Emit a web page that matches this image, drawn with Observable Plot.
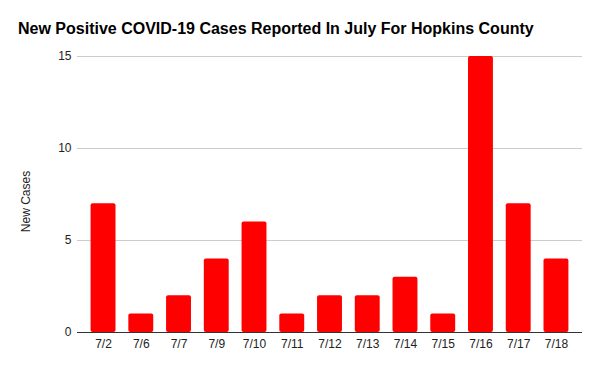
<!DOCTYPE html>
<html>
<head>
<meta charset="utf-8">
<script src="https://cdn.jsdelivr.net/npm/d3@7"></script>
<script src="https://cdn.jsdelivr.net/npm/@observablehq/plot@0.6"></script>
<style>
  html, body { margin: 0; padding: 0; background: #fff; }
  #title {
    box-sizing: border-box; height: 44px; padding: 19px 0 0 18px;
    font: bold 16px "Liberation Sans", Arial, sans-serif; line-height: 20px; color: #000;
    white-space: nowrap;
  }
</style>
</head>
<body>
<div id="title">New Positive COVID-19 Cases Reported In July For Hopkins County</div>
<div id="chart"></div>
<script>
const dates = ["7/2","7/6","7/7","7/9","7/10","7/11","7/12","7/13","7/14","7/15","7/16","7/17","7/18"];
const cases = [7, 1, 2, 4, 6, 1, 2, 2, 3, 1, 15, 7, 4];
const yTicks = [0, 5, 10, 15];
const yLabel = "New Cases";

const data = dates.map((d, i) => ({date: d, value: cases[i]}));

const chart = Plot.plot({
  width: 600,
  height: 327,
  marginTop: 12,
  marginBottom: 39,
  marginLeft: 77,
  marginRight: 18,
  style: {fontFamily: "'Liberation Sans', Arial, sans-serif", fontSize: "12px", color: "#222", background: "#fff"},
  x: {domain: dates, paddingInner: 0.34, paddingOuter: 0.36, round: false, label: null},
  y: {domain: [0, 15], label: null},
  marks: [
    Plot.gridY(yTicks.filter(t => t > 0), {stroke: "#cccccc", strokeOpacity: 1}),
    Plot.barY(data, {x: "date", y: "value", fill: "#ff0000", rx: 2}),
    Plot.ruleY([0], {stroke: "#333333", strokeWidth: 1}),
    Plot.axisY(yTicks, {tickSize: 0, tickPadding: 6, label: null, fill: "#222"}),
    Plot.axisX({tickSize: 0, tickPadding: 7, label: null, fill: "#222"}),
    Plot.text([yLabel], {frameAnchor: "left", textAnchor: "middle", lineAnchor: "middle", dx: -51, dy: 7, rotate: -90, text: d => d, fill: "#222", fontSize: 12})
  ]
});
document.getElementById("chart").appendChild(chart);
</script>
</body>
</html>
